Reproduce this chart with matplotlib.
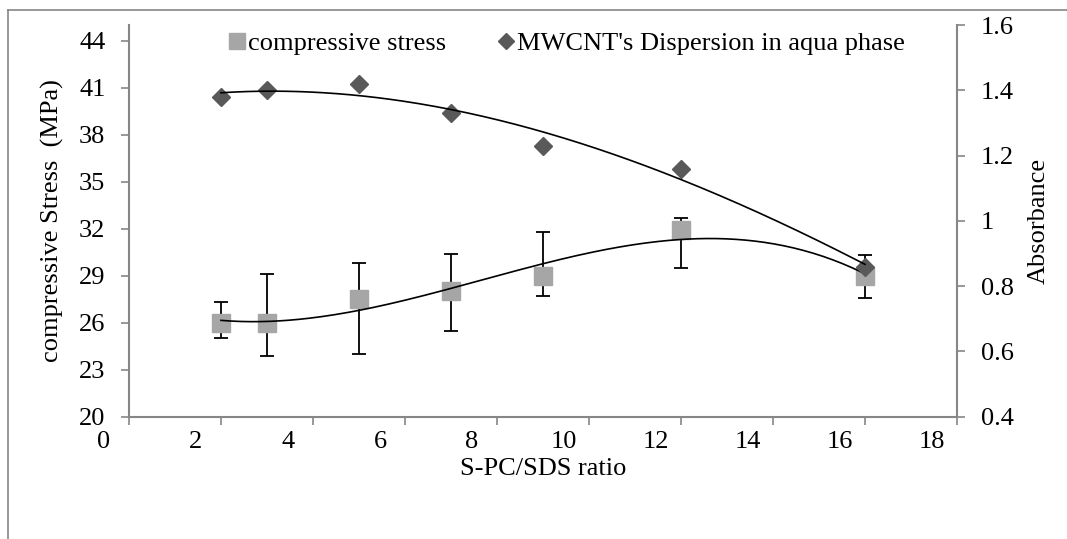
import matplotlib.pyplot as plt
import numpy as np
from matplotlib.lines import Line2D
from matplotlib.transforms import ScaledTranslation

plt.rcParams['font.family'] = ['Liberation Serif', 'DejaVu Serif']

# data
ratio = [2, 3, 5, 7, 9, 12, 16]
stress = [26.0, 26.0, 27.5, 28.0, 29.0, 31.9, 29.0]
stress_hi = [27.3, 29.1, 29.8, 30.4, 31.8, 32.7, 30.35]
stress_lo = [25.0, 23.9, 24.0, 25.5, 27.7, 29.5, 27.6]
absorb = [1.38, 1.40, 1.42, 1.33, 1.23, 1.16, 0.86]

x = np.array(ratio)
ys = np.array(stress)
err = [ys - np.array(stress_lo), np.array(stress_hi) - ys]

grey = '#868686'
sq_col = '#A6A6A6'
dia_col = '#595959'
fs = 19

fig = plt.figure(figsize=(10.67, 5.39), dpi=100)
ax = fig.add_axes([129/1067, 1 - 416.7/539, (957 - 129)/1067, (416.7 - 25)/539])
ax2 = ax.twinx()

# compressive stress with error bars
ax.errorbar(x, ys, yerr=err, fmt='none', ecolor='black', elinewidth=1.3,
            capsize=5, capthick=1.3, zorder=2)
ax.plot(x, ys, 's', color=sq_col, ms=13.5, zorder=3)
xs = np.linspace(min(ratio), max(ratio), 200)
ax.plot(xs, np.polyval(np.polyfit(x, ys, 3), xs), color='black', lw=1.2, zorder=4)

# absorbance
ax2.plot(x, absorb, 'D', color=dia_col, ms=9.5, zorder=3)
ax2.plot(xs, np.polyval(np.polyfit(x, absorb, 3), xs), color='black', lw=1.2, zorder=4)

ax.set_xlim(0, 18)
ax.set_ylim(20, 45)
ax.set_xticks(np.arange(0, 19, 2))
ax.set_yticks(np.arange(20, 45, 3))
ax2.set_ylim(0.4, 1.6)
ax2.set_yticks([0.4, 0.6, 0.8, 1.0, 1.2, 1.4, 1.6])
ax2.set_yticklabels(['0.4', '0.6', '0.8', '1', '1.2', '1.4', '1.6'])

for a in (ax, ax2):
    for s in a.spines.values():
        s.set_visible(False)
ax.spines['left'].set_visible(True)
ax.spines['bottom'].set_visible(True)
ax2.spines['right'].set_visible(True)
for s in (ax.spines['left'], ax.spines['bottom'], ax2.spines['right']):
    s.set_color(grey)
    s.set_linewidth(1.5)

ax.tick_params(axis='both', direction='out', length=6, width=1.2, color=grey,
               labelsize=fs, pad=4)
ax.tick_params(axis='y', pad=11)
ax2.tick_params(axis='y', direction='out', length=6, width=1.2, color=grey,
                labelsize=fs, pad=11)

# x tick labels sit left of their ticks in the original
shift = ScaledTranslation(-25/100, 0, fig.dpi_scale_trans)
for lab in ax.get_xticklabels():
    lab.set_transform(lab.get_transform() + shift)

ax.set_xlabel('S-PC/SDS ratio', fontsize=fs, labelpad=4)
ax.set_ylabel('compressive Stress  (MPa)', fontsize=fs, labelpad=11)
ax2.set_ylabel('Absorbance', fontsize=fs, labelpad=10)

handles = [Line2D([], [], ls='none', marker='s', color=sq_col, ms=12),
           Line2D([], [], ls='none', marker='D', color=dia_col, ms=8)]
fig.legend(handles, ['compressive stress', "MWCNT's Dispersion in aqua phase"],
           loc='center', bbox_to_anchor=(567/1067, 1 - 43/539), ncol=2,
           frameon=False, fontsize=fs, handlelength=0.6, handletextpad=0.1,
           columnspacing=2.0, borderpad=0.2)

# outer chart border (only top and left visible)
fig.add_artist(Line2D([8/1067, 1], [1 - 10/539, 1 - 10/539], color=grey, lw=1.2))
fig.add_artist(Line2D([8/1067, 8/1067], [0, 1 - 10/539], color=grey, lw=1.2))

fig.savefig('out.png', dpi=100)
